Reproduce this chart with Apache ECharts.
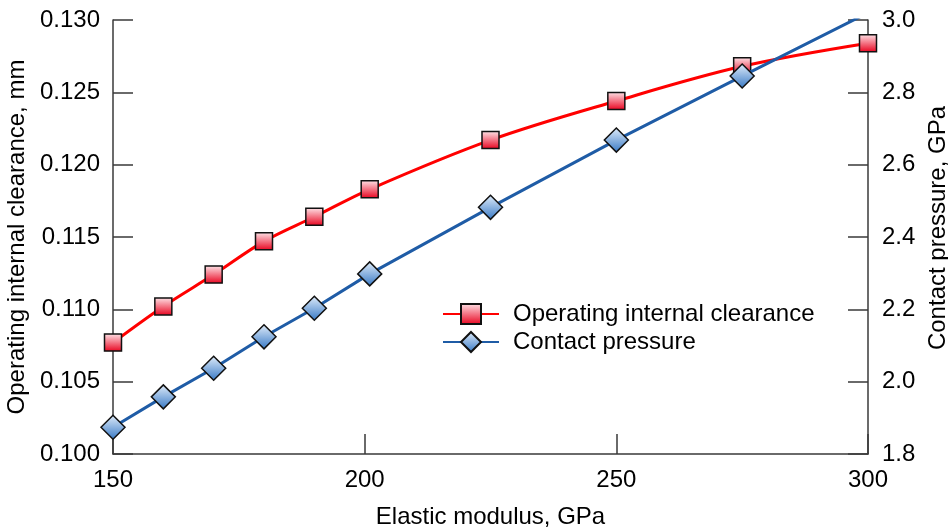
<!DOCTYPE html>
<html>
<head>
<meta charset="utf-8">
<script src="https://cdn.jsdelivr.net/npm/echarts@6/dist/echarts.min.js"></script>
<style>
  html, body { margin: 0; padding: 0; background: #fff; }
  #chart { width: 948px; height: 529px; }
</style>
</head>
<body>
<div id="chart"></div>
<script>
// 数据
const modulus = [150, 160, 170, 180, 190, 201, 225, 250, 275, 300]
const clearance = [0.1077, 0.1102, 0.1124, 0.1147, 0.1164, 0.1183, 0.1217, 0.1244, 0.1268, 0.1284]
const pressure = [1.874, 1.958, 2.037, 2.124, 2.203, 2.298, 2.482, 2.668, 2.845, 3.02]

const font = "'Liberation Sans', Arial, sans-serif"
const axisColor = "#3a3a3a"
const fs = 24

let myChart = echarts.init(document.getElementById("chart"))

// 坐标轴公共样式
function axisBase() {
  return {
    axisLine: { show: true, lineStyle: { color: axisColor, width: 1.5 } },
    axisTick: { show: true, inside: true, length: 20, lineStyle: { color: axisColor, width: 1.5 } },
    splitLine: { show: false },
    nameLocation: "middle",
  }
}

myChart.setOption({
  animation: false,
  backgroundColor: "#fff",
  textStyle: { fontFamily: font },
  grid: { left: 113, right: 80, top: 20, bottom: 75, outerBoundsMode: "none" },
  legend: {
    left: 442,
    top: 302,
    padding: 0,
    orient: "vertical",
    itemWidth: 56,
    itemHeight: 25,
    itemGap: 4,
    textStyle: { fontFamily: font, fontSize: fs, color: "#000", padding: [0, 0, 0, 9] },
    data: ["Operating internal clearance", "Contact pressure"],
  },
  xAxis: Object.assign(axisBase(), {
    type: "value",
    min: 150,
    max: 300,
    interval: 50,
    name: "Elastic modulus, GPa",
    nameGap: 51,
    nameTextStyle: { fontFamily: font, fontSize: fs, color: "#000" },
    axisLabel: { fontFamily: font, fontSize: fs, color: "#000", margin: 14 },
  }),
  yAxis: [
    Object.assign(axisBase(), {
      type: "value",
      position: "left",
      min: 0.1,
      max: 0.13,
      interval: 0.005,
      name: "Operating internal clearance, mm",
      nameGap: 81,
      nameTextStyle: { fontFamily: font, fontSize: fs, color: "#000" },
      axisLabel: {
        fontFamily: font, fontSize: fs, color: "#000", margin: 13,
        formatter: (v) => v.toFixed(3),
      },
    }),
    Object.assign(axisBase(), {
      type: "value",
      position: "right",
      min: 1.8,
      max: 3.0,
      interval: 0.2,
      name: "Contact pressure, GPa",
      nameGap: 46,
      nameTextStyle: { fontFamily: font, fontSize: fs, color: "#000", padding: [0, 0, 0, 18] },
      axisLabel: {
        fontFamily: font, fontSize: fs, color: "#000", margin: 14,
        formatter: (v) => v.toFixed(1),
      },
    }),
  ],
  series: [
    {
      name: "Operating internal clearance",
      type: "line",
      yAxisIndex: 0,
      smooth: 0.35,
      data: modulus.map((x, i) => [x, clearance[i]]),
      symbol: "rect",
      symbolSize: 17,
      lineStyle: { color: "#ff0000", width: 3 },
      itemStyle: {
        color: new echarts.graphic.LinearGradient(0, 0, 0, 1, [
          { offset: 0, color: "#ffe6ea" },
          { offset: 1, color: "#e8001c" },
        ]),
        borderColor: "#111",
        borderWidth: 1.5,
      },
      z: 3,
    },
    {
      name: "Contact pressure",
      type: "line",
      yAxisIndex: 1,
      data: modulus.map((x, i) => [x, pressure[i]]),
      symbol: "diamond",
      symbolSize: 24,
      lineStyle: { color: "#1f5ca6", width: 3 },
      itemStyle: {
        color: new echarts.graphic.LinearGradient(0, 0, 0, 1, [
          { offset: 0, color: "#e2eefb" },
          { offset: 1, color: "#3577c4" },
        ]),
        borderColor: "#111",
        borderWidth: 1.5,
      },
      z: 4,
    },
  ],
})
</script>
</body>
</html>
